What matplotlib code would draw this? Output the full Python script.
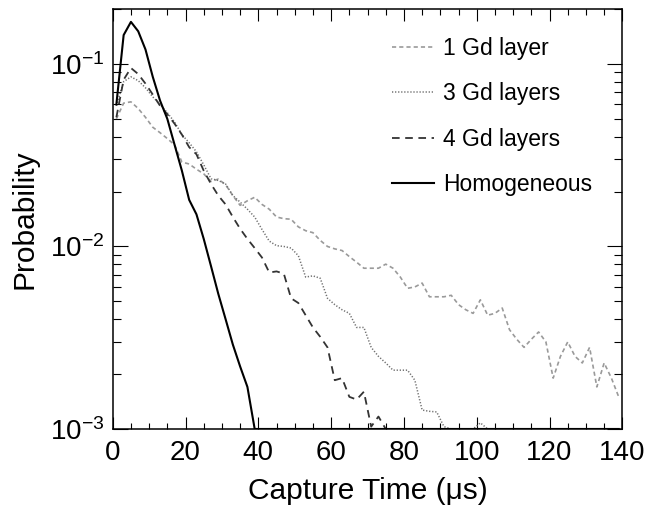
import numpy as np
import matplotlib
matplotlib.use("Agg")
import matplotlib.pyplot as plt
from matplotlib.ticker import LogLocator, MultipleLocator, NullFormatter

plt.rcParams['font.family'] = ['Liberation Sans', 'DejaVu Sans']
plt.rcParams['mathtext.fontset'] = 'custom'
plt.rcParams['mathtext.rm'] = 'Liberation Sans'
plt.rcParams['mathtext.it'] = 'Liberation Sans:italic'
plt.rcParams['mathtext.bf'] = 'Liberation Sans:bold'
plt.rcParams['lines.scale_dashes'] = False

# bin centres (2 us bins)
time_us = np.arange(1, 140, 2)

gd1 = [0.050, 0.061, 0.062, 0.057, 0.051, 0.045, 0.042, 0.039, 0.036, 0.029,
       0.0283, 0.0265, 0.025, 0.0227, 0.0234, 0.0218, 0.019, 0.0168, 0.0178, 0.0186,
       0.017, 0.0160, 0.0145, 0.0142, 0.0141, 0.0128, 0.0122, 0.0119, 0.0108, 0.0100,
       0.0097, 0.0095, 0.0088, 0.0082, 0.0076, 0.0076, 0.0076, 0.0080, 0.0076, 0.0068,
       0.0059, 0.0060, 0.0063, 0.0053, 0.0053, 0.0053, 0.0054, 0.0048, 0.0045, 0.0043,
       0.0051, 0.0042, 0.0043, 0.0046, 0.0035, 0.0031, 0.0028, 0.0031, 0.0034, 0.0030,
       0.0019, 0.0025, 0.0030, 0.0025, 0.0023, 0.0028, 0.0017, 0.0023, 0.0019, 0.0015]

gd3 = [0.059, 0.080, 0.085, 0.081, 0.074, 0.066, 0.060, 0.054, 0.048, 0.041,
       0.037, 0.033, 0.028, 0.0235, 0.023, 0.022, 0.019, 0.0175, 0.016, 0.0145,
       0.0124, 0.0107, 0.0101, 0.0100, 0.0098, 0.0089, 0.0068, 0.0069, 0.0067, 0.0052,
       0.0048, 0.0045, 0.0043, 0.0036, 0.0036, 0.0028, 0.0025, 0.0023, 0.0021, 0.0021,
       0.0021, 0.00185, 0.00127, 0.00125, 0.00124, 0.00103, 0, 0, 0, 0,
       0.00108, 0, 0, 0, 0, 0, 0, 0, 0, 0,
       0, 0, 0, 0, 0, 0, 0, 0, 0, 0]

gd4 = [0.051, 0.082, 0.095, 0.088, 0.078, 0.068, 0.059, 0.053, 0.047, 0.041,
       0.035, 0.032, 0.026, 0.022, 0.019, 0.017, 0.0145, 0.0125, 0.011, 0.0098,
       0.0087, 0.0072, 0.0073, 0.0071, 0.0052, 0.0049, 0.0042, 0.0036, 0.0032, 0.0028,
       0.00185, 0.0019, 0.0015, 0.00145, 0.0016, 0.00103, 0.00117, 0, 0, 0,
       0, 0, 0, 0, 0, 0, 0, 0, 0, 0,
       0, 0, 0, 0, 0, 0, 0, 0, 0, 0,
       0, 0, 0, 0, 0, 0, 0, 0, 0, 0]

homog = [0.060, 0.144, 0.170, 0.151, 0.120, 0.085, 0.063, 0.050, 0.036, 0.026,
         0.018, 0.015, 0.011, 0.0078, 0.0055, 0.0040, 0.0029, 0.0022, 0.0017, 0.0010,
         0, 0, 0, 0, 0, 0, 0, 0, 0, 0,
         0, 0, 0, 0, 0, 0, 0, 0, 0, 0,
         0, 0, 0, 0, 0, 0, 0, 0, 0, 0,
         0, 0, 0, 0, 0, 0, 0, 0, 0, 0,
         0, 0, 0, 0, 0, 0, 0, 0, 0, 0]

labels = ["1 Gd layer", "3 Gd layers", "4 Gd layers", "Homogeneous"]
ymin, ymax = 1e-3, 0.2

fig = plt.figure(figsize=(6.52, 5.14), dpi=100)
ax = fig.add_axes([0.1729, 0.1654, 0.7816, 0.8171])

def clipv(v):
    return np.clip(np.asarray(v, dtype=float), ymin, None)

ax.plot(time_us, clipv(gd1), color='#9a9a9a', lw=1.2, dashes=(3.0, 2.2), label=labels[0])
ax.plot(time_us, clipv(gd3), color='#707070', lw=1.1, dashes=(0.9, 1.3), label=labels[1])
ax.plot(time_us, clipv(gd4), color='#333333', lw=1.3, dashes=(5.5, 4.0), label=labels[2])
ax.plot(time_us, clipv(homog), color='black', lw=1.5, label=labels[3])

ax.set_yscale('log')
ax.set_xlim(0, 140)
ax.set_ylim(ymin, ymax)

ax.xaxis.set_major_locator(MultipleLocator(20))
ax.xaxis.set_minor_locator(MultipleLocator(5))
ax.yaxis.set_major_locator(LogLocator(base=10, numticks=10))
ax.yaxis.set_minor_locator(LogLocator(base=10, subs=np.arange(2, 10), numticks=20))
ax.yaxis.set_minor_formatter(NullFormatter())

ax.tick_params(axis='both', which='both', direction='in', top=True, right=True,
               width=0.8, labelsize=20)
ax.tick_params(axis='x', which='major', length=8.6, pad=8)
ax.tick_params(axis='x', which='minor', length=4.3)
ax.tick_params(axis='y', which='major', length=11, pad=6)
ax.tick_params(axis='y', which='minor', length=5.5)
for s in ax.spines.values():
    s.set_linewidth(1.1)

ax.set_xlabel('Capture Time (μs)', fontsize=21.5, labelpad=8)
ax.set_ylabel('Probability', fontsize=21.5, labelpad=8)

leg = ax.legend(loc='upper left', bbox_to_anchor=(0.601, 0.928), bbox_transform=fig.transFigure,
                frameon=False, fontsize=16.5, handlelength=1.85, handletextpad=0.38,
                labelspacing=0.98, borderpad=0, borderaxespad=0)

fig.savefig('out.png', dpi=100)
